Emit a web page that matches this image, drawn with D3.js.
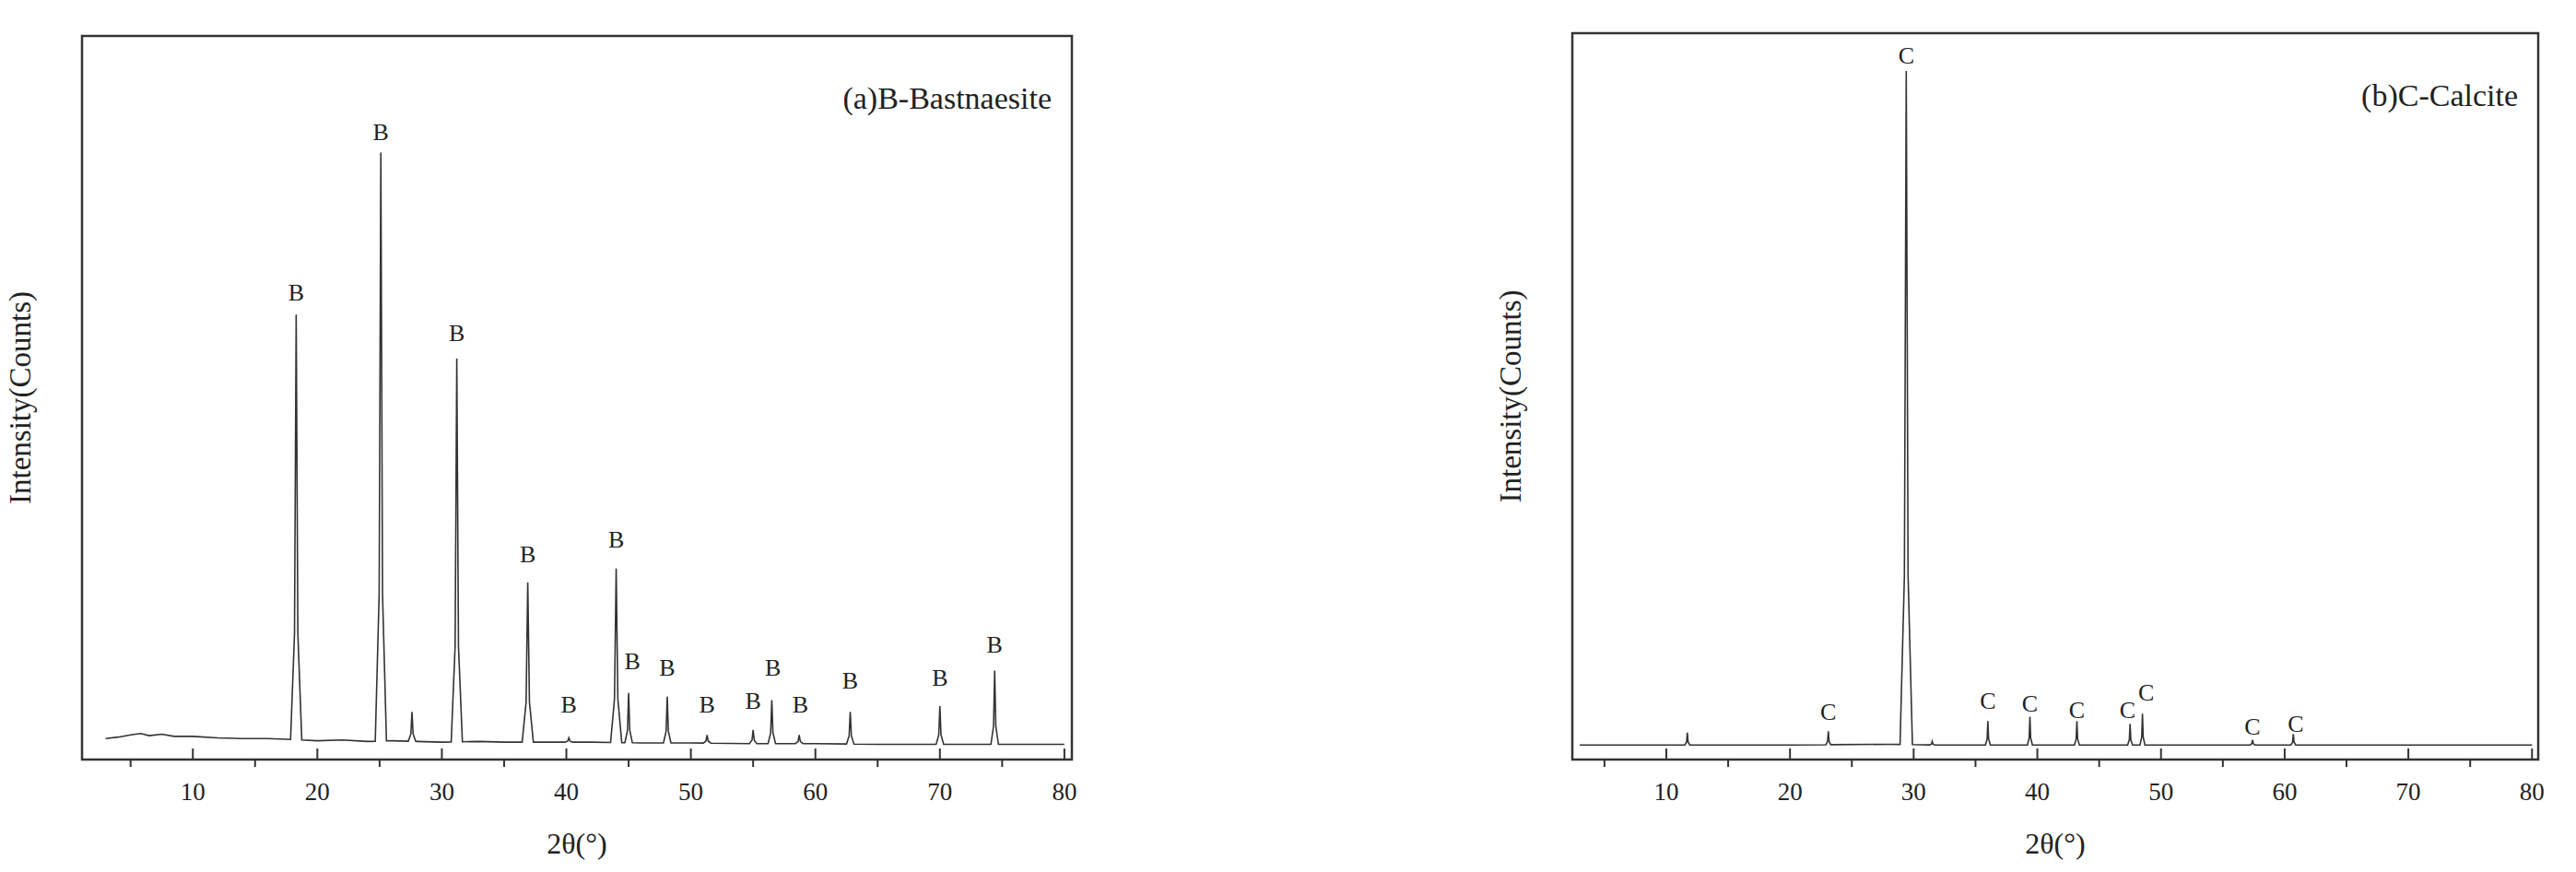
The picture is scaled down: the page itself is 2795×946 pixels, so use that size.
<!DOCTYPE html>
<html><head><meta charset="utf-8">
<script src="https://cdn.jsdelivr.net/npm/d3@7"></script>
<style>body{margin:0;background:#fff}svg{display:block}text{font-family:"Liberation Serif","Times New Roman",serif;fill:#222}</style>
</head><body><svg id="c" width="2795" height="946"></svg>
<script>
// Panel (a) Bastnaesite: peak positions (2θ) and heights (relative, frame = 0..100)
const aPeakPos = [18.3, 25.1, 27.6, 31.2, 36.9, 40.2, 44.0, 45.0, 48.1, 51.3, 55.0, 56.5, 58.7, 62.8, 70.0, 74.4];
const aPeakH   = [61.5, 83.9, 6.6, 55.4, 24.5, 3.0, 26.4, 9.2, 8.7, 3.4, 4.1, 8.2, 3.4, 6.6, 7.4, 12.3];
const aBaseX   = [3, 4, 5, 5.8, 6.5, 7.5, 8.5, 10, 12, 14, 16, 17.5, 20, 22, 24, 26, 28, 30, 33, 35, 38, 42, 46, 50, 55, 60, 65, 70, 75, 80];
const aBaseY   = [2.9, 3.1, 3.4, 3.6, 3.3, 3.5, 3.2, 3.2, 3.0, 2.9, 2.9, 2.8, 2.6, 2.7, 2.5, 2.6, 2.5, 2.4, 2.5, 2.4, 2.4, 2.4, 2.3, 2.3, 2.2, 2.2, 2.1, 2.1, 2.1, 2.1];
const aLabelX  = [18.3, 25.1, 31.2, 36.9, 40.2, 44.0, 45.3, 48.1, 51.3, 55.0, 56.6, 58.8, 62.8, 70.0, 74.4];
const aLabelY  = [64.6, 86.7, 59.0, 28.4, 7.7, 30.4, 13.6, 12.7, 7.7, 8.2, 12.7, 7.7, 10.9, 11.3, 15.9];
// Panel (b) Calcite
const bPeakPos = [11.7, 23.1, 29.4, 31.5, 36.0, 39.4, 43.2, 47.5, 48.5, 57.4, 60.7];
const bPeakH   = [3.7, 3.9, 94.8, 2.5, 5.3, 5.9, 5.3, 4.9, 6.3, 2.7, 3.5];
const bBaseX   = [3, 10, 20, 28, 32, 40, 50, 60, 70, 80];
const bBaseY   = [2.0, 2.0, 2.0, 2.1, 2.0, 2.0, 2.0, 2.0, 2.0, 2.0];
const bLabelX  = [29.4, 23.1, 36.0, 39.4, 43.2, 47.3, 48.8, 57.4, 60.9];
const bLabelY  = [96.9, 6.6, 8.1, 7.7, 6.9, 6.9, 9.3, 4.6, 5.0];
const xTicks = [10, 20, 30, 40, 50, 60, 70, 80];
const xMinor = [5, 15, 25, 35, 45, 55, 65, 75];

const svg = d3.select("#c");
function panel(o){
  const g = svg.append("g");
  const x = d3.scaleLinear().domain(o.xd).range([o.x0, o.x1]);
  const y = d3.scaleLinear().domain([0,100]).range([o.y1, o.y0]);
  const base = xv => { const i = d3.bisectLeft(o.bx, xv); if(i<=0) return o.by[0]; if(i>=o.bx.length) return o.by[o.by.length-1];
    const t=(xv-o.bx[i-1])/(o.bx[i]-o.bx[i-1]); return o.by[i-1]+t*(o.by[i]-o.by[i-1]); };
  let pts = o.bx.map((v,i)=>[v,o.by[i]]);
  o.pp.forEach((p,i)=>{ const w = o.pw(o.ph[i]);
    pts = pts.filter(d=>Math.abs(d[0]-p)>w);
    pts.push([p-w, base(p-w)],[p-w*0.3, base(p)+(o.ph[i]-base(p))*0.25],[p,o.ph[i]],[p+w*0.3, base(p)+(o.ph[i]-base(p))*0.25],[p+w, base(p+w)]); });
  pts.sort((a,b)=>a[0]-b[0]);
  g.append("path").datum(pts).attr("fill","none").attr("stroke","#333").attr("stroke-width",1.6)
    .attr("d", d3.line().x(d=>x(d[0])).y(d=>y(d[1])));
  g.append("rect").attr("x",o.x0).attr("y",o.y0).attr("width",o.x1-o.x0).attr("height",o.y1-o.y0)
    .attr("fill","none").attr("stroke","#333").attr("stroke-width",2.5);
  g.selectAll(".mj").data(xTicks).join("line").attr("x1",d=>x(d)).attr("x2",d=>x(d)).attr("y1",o.y1).attr("y2",o.y1-12).attr("stroke","#333").attr("stroke-width",2);
  g.selectAll(".mn").data(xMinor).join("line").attr("x1",d=>x(d)).attr("x2",d=>x(d)).attr("y1",o.y1).attr("y2",o.y1+8).attr("stroke","#333").attr("stroke-width",2);
  g.selectAll(".tl").data(xTicks).join("text").attr("x",d=>x(d)).attr("y",o.y1+44).attr("text-anchor","middle").attr("font-size",27).text(d=>d);
  g.selectAll(".lb").data(o.lx).join("text").attr("x",d=>x(d)).attr("y",(d,i)=>y(o.ly[i])+9).attr("text-anchor","middle").attr("font-size",26).text(o.letter);
  g.append("text").attr("x",(o.x0+o.x1)/2).attr("y",o.y1+102).attr("text-anchor","middle").attr("font-size",32).text("2θ(°)");
  g.append("text").attr("transform",`translate(${o.x0-56},${(o.y0+o.y1)/2}) rotate(-90)`).attr("text-anchor","middle").attr("font-size",33).text("Intensity(Counts)");
  g.append("text").attr("x",o.x1-22).attr("y",o.y0+79).attr("text-anchor","end").attr("font-size",34).text(o.title);
}
panel({x0:89,x1:1163,y0:39,y1:824,xd:[1.1,80.6],pp:aPeakPos,ph:aPeakH,bx:aBaseX,by:aBaseY,lx:aLabelX,ly:aLabelY,letter:"B",title:"(a)B-Bastnaesite",pw:h=>h>20?0.45:0.3});
panel({x0:1706,x1:2754,y0:36,y1:824,xd:[2.4,80.5],pp:bPeakPos,ph:bPeakH,bx:bBaseX,by:bBaseY,lx:bLabelX,ly:bLabelY,letter:"C",title:"(b)C-Calcite",pw:h=>h>20?0.5:0.2});
</script></body></html>
